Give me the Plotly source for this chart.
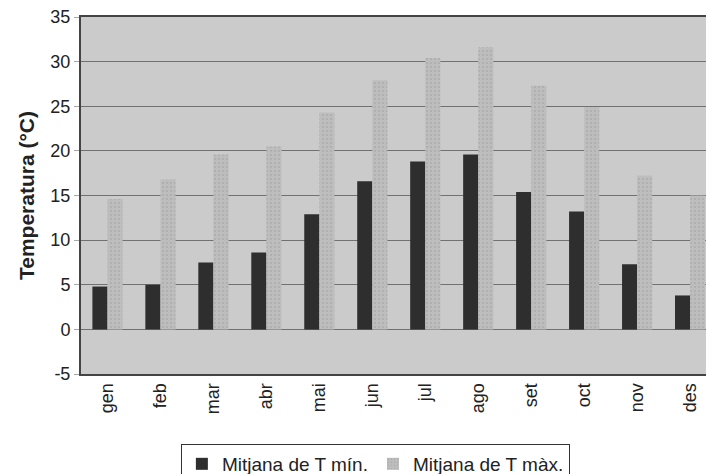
import plotly.graph_objects as go

mesos = ["gen", "feb", "mar", "abr", "mai", "jun", "jul", "ago", "set", "oct", "nov", "des"]
t_min = [4.8, 5.0, 7.5, 8.6, 12.9, 16.6, 18.8, 19.6, 15.4, 13.2, 7.3, 3.8]
t_max = [14.6, 16.8, 19.6, 20.5, 24.3, 27.9, 30.4, 31.6, 27.3, 24.9, 17.2, 15.0]
y_ticks = [-5, 0, 5, 10, 15, 20, 25, 30, 35]

fig = go.Figure()
fig.add_trace(go.Bar(x=mesos, y=t_min, name="Mitjana de T mín.",
                     marker=dict(color="#2e2e2e", line=dict(width=0))))
fig.add_trace(go.Bar(x=mesos, y=t_max, name="Mitjana de T màx.",
                     marker=dict(color="#bdbdbd", line=dict(width=0),
                                 pattern=dict(shape=".", fgcolor="#9a9a9a",
                                              fgopacity=0.5, size=4, solidity=0.2))))

fig.update_layout(
    width=706, height=474,
    margin=dict(l=81, r=0, t=17, b=100, autoexpand=False),
    paper_bgcolor="white", plot_bgcolor="#cbcbcb",
    barmode="group", bargap=0.43, bargroupgap=0,
    font=dict(family="Liberation Sans, Arial", size=18, color="#222"),
    legend=dict(orientation="h", x=0.471, xanchor="center", y=-0.196, yanchor="top",
                bordercolor="#333", borderwidth=1, bgcolor="white",
                font=dict(size=19), itemwidth=30),
    showlegend=True,
)
fig.update_yaxes(range=[-5, 35], tickvals=y_ticks, ticktext=[str(v) for v in y_ticks],
                 automargin=False, ticklabeloverflow="allow",
                 showgrid=True, gridcolor="#717171", gridwidth=1,
                 zeroline=True, zerolinecolor="#717171", zerolinewidth=1,
                 showline=True, linecolor="#444", linewidth=2, mirror=True,
                 ticks="outside", ticklen=5, tickcolor="#aaa", tickfont=dict(size=18),
                 title=dict(text="<b>Temperatura (°C)</b>", font=dict(size=21), standoff=10))
fig.update_xaxes(range=[-0.5, 11.3], tickangle=-90, showgrid=False, automargin=False,
                 ticklabeloverflow="allow",
                 showline=True, linecolor="#444", linewidth=2, mirror=True,
                 tickfont=dict(size=18))

fig.write_html("out.html", config={"displayModeBar": False},
               post_script="document.body.style.margin='0';document.body.style.overflow='hidden';")
